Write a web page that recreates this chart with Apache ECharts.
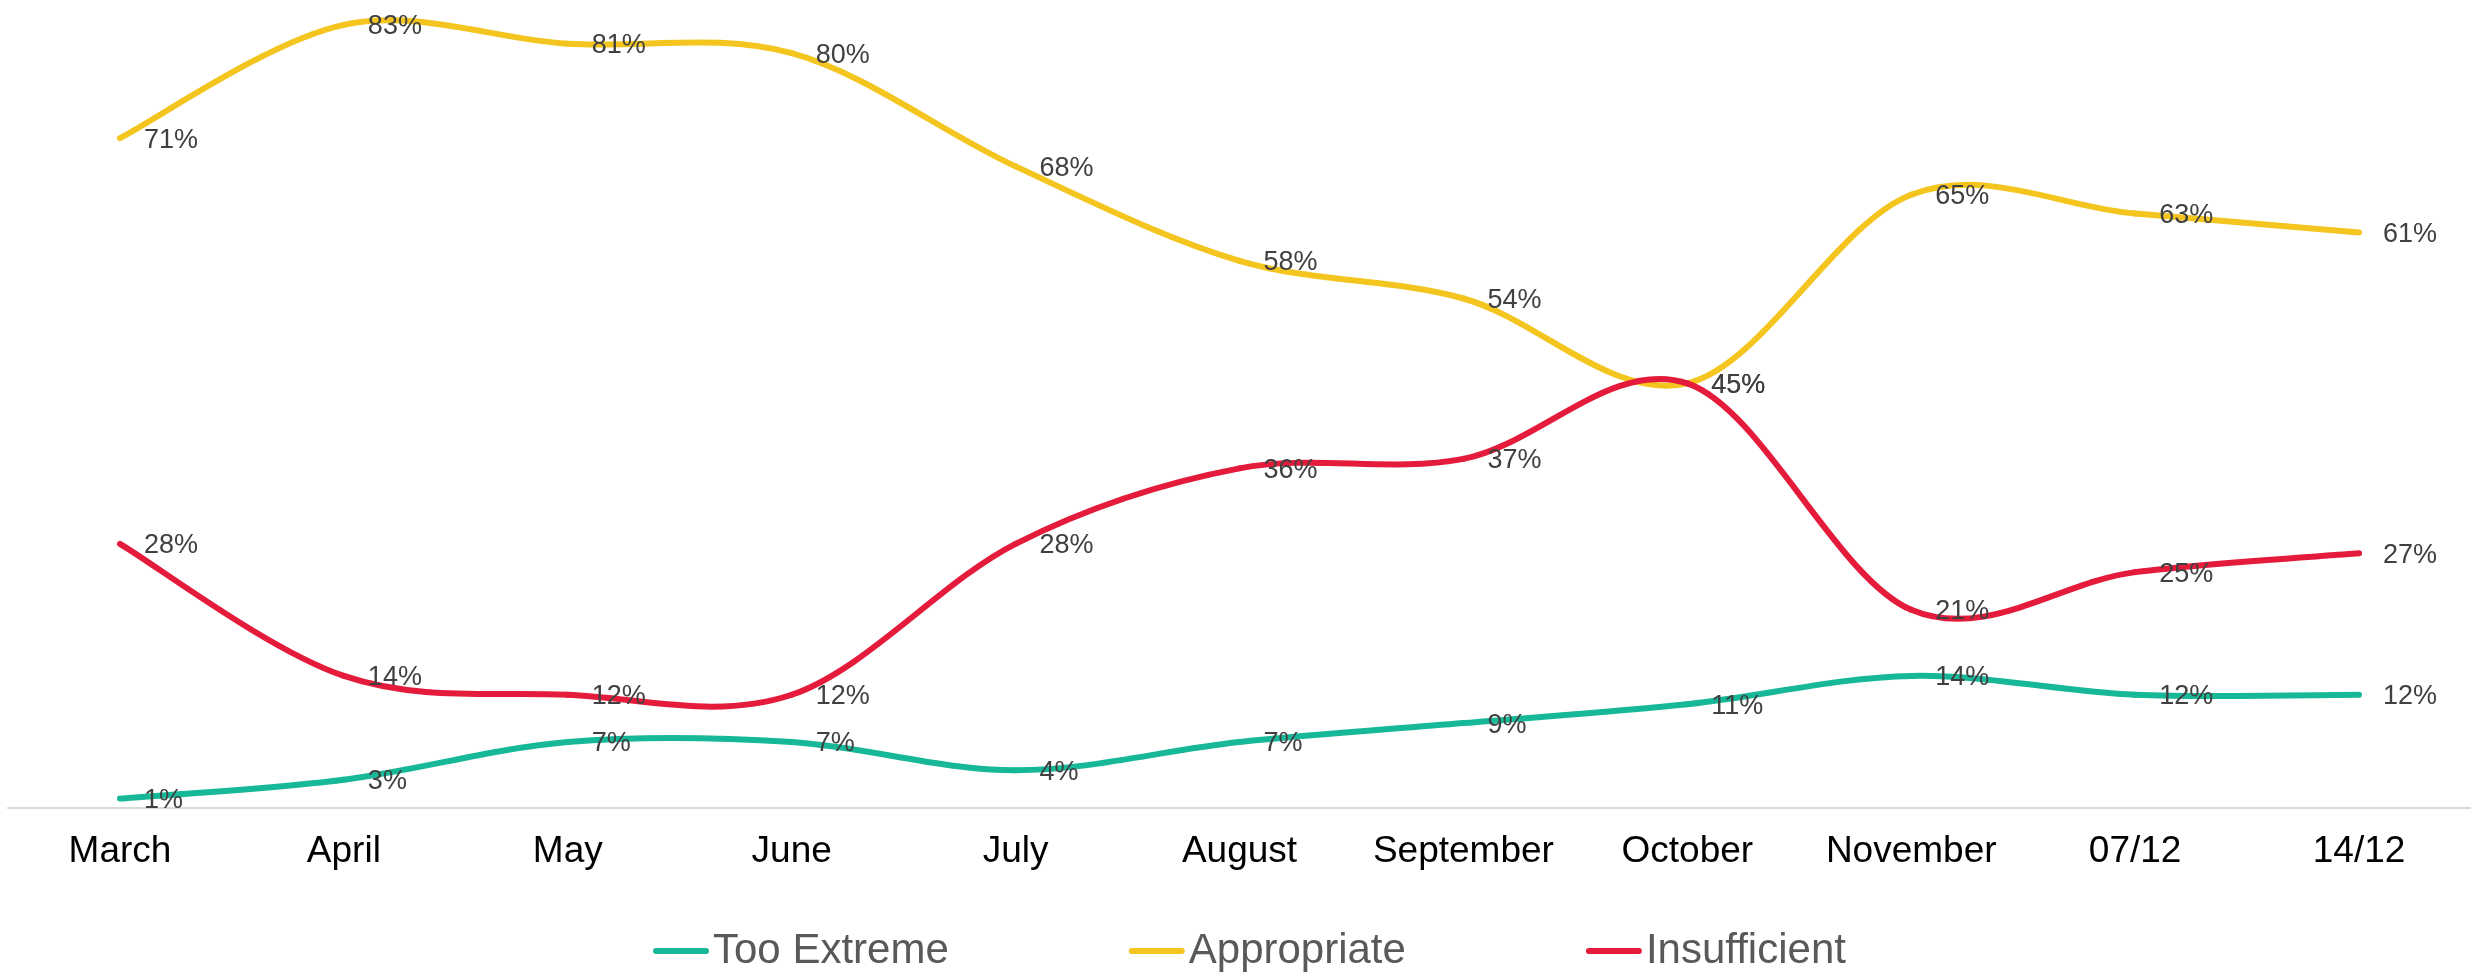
<!DOCTYPE html>
<html>
<head>
<meta charset="utf-8">
<script src="https://cdn.jsdelivr.net/npm/echarts@6/dist/echarts.min.js"></script>
<style>
html,body{margin:0;padding:0;background:#fff;}
#chart{width:2471px;height:972px;}
</style>
</head>
<body>
<div id="chart"></div>
<script>
const categories = ["March","April","May","June","July","August","September","October","November","07/12","14/12"];
const tooExtreme = [1,3,7,7,4,7,9,11,14,12,12];
const appropriate = [71,83,81,80,68,58,54,45,65,63,61];
const insufficient = [28,14,12,12,28,36,37,45,21,25,27];
const seriesNames = ["Too Extreme","Appropriate","Insufficient"];
const colors = ["#17B897","#F4C51F","#E41B3A"];

const chart = echarts.init(document.getElementById('chart'), null, {renderer:'canvas'});
const FONT = '"Liberation Sans", Arial, sans-serif';

// Smooth (Excel-like Catmull-Rom) line drawn segment by segment through the axes' coordinate system
function lineSeries(name, values, color) {
  const n = values.length;
  return {
    name: name,
    type: 'custom',
    z: 2,
    data: values.map((v, i) => [i, v]),
    encode: {x: 0, y: 1},
    itemStyle: {color: color},
    silent: true,
    animation: false,
    renderItem: function (params, api) {
      const i = params.dataIndex;
      if (i >= n - 1) return null;
      const P = k => api.coord([Math.max(0, Math.min(n - 1, k)), values[Math.max(0, Math.min(n - 1, k))]]);
      const p0 = P(i - 1), p1 = P(i), p2 = P(i + 1), p3 = P(i + 2);
      const t = 1 / 6;
      return {
        type: 'bezierCurve',
        shape: {
          x1: p1[0], y1: p1[1],
          cpx1: p1[0] + (p2[0] - p0[0]) * t, cpy1: p1[1] + (p2[1] - p0[1]) * t,
          cpx2: p2[0] - (p3[0] - p1[0]) * t, cpy2: p2[1] - (p3[1] - p1[1]) * t,
          x2: p2[0], y2: p2[1]
        },
        style: {stroke: color, lineWidth: 6, fill: null, lineCap: 'round', lineJoin: 'round'}
      };
    }
  };
}

function labelSeries(key, values) {
  return {
    name: key,
    type: 'custom',
    z: 5,
    data: values.map((v, i) => [i, v]),
    encode: {x: 0, y: 1},
    silent: true,
    animation: false,
    renderItem: function (params, api) {
      const p = api.coord([api.value(0), api.value(1)]);
      return {
        type: 'text',
        x: p[0] + 24,
        y: p[1] + 2,
        style: {
          text: api.value(1) + '%',
          fontFamily: FONT,
          fontSize: 27,
          fill: '#404040',
          align: 'left',
          verticalAlign: 'middle'
        }
      };
    }
  };
}

chart.setOption({
  backgroundColor: '#ffffff',
  animation: false,
  textStyle: {fontFamily: FONT},
  grid: {left: 8, width: 2468, top: 6, bottom: 164, containLabel: false},
  legend: {
    data: seriesNames,
    left: 648,
    top: 925,
    itemGap: 180,
    itemWidth: 56,
    itemHeight: 7,
    icon: 'path://M3,0 L53,0 A3,3 0 0 1 53,6 L3,6 A3,3 0 0 1 3,0 Z',
    selectedMode: false,
    textStyle: {fontFamily: FONT, fontSize: 42, color: '#595959', padding: [0,0,0,-1]}
  },
  xAxis: {
    type: 'category',
    data: categories,
    boundaryGap: true,
    axisLine: {show: true, lineStyle: {color: '#D9D9D9', width: 2}},
    axisTick: {show: false},
    axisLabel: {fontFamily: FONT, fontSize: 37, color: '#000000', margin: 25, interval: 0}
  },
  yAxis: {
    type: 'value',
    min: 0,
    max: 85,
    show: false,
    splitLine: {show: false}
  },
  series: [
    lineSeries(seriesNames[0], tooExtreme, colors[0]),
    lineSeries(seriesNames[1], appropriate, colors[1]),
    lineSeries(seriesNames[2], insufficient, colors[2]),
    labelSeries('lbl0', tooExtreme),
    labelSeries('lbl1', appropriate),
    labelSeries('lbl2', insufficient)
  ]
});
</script>
</body>
</html>
